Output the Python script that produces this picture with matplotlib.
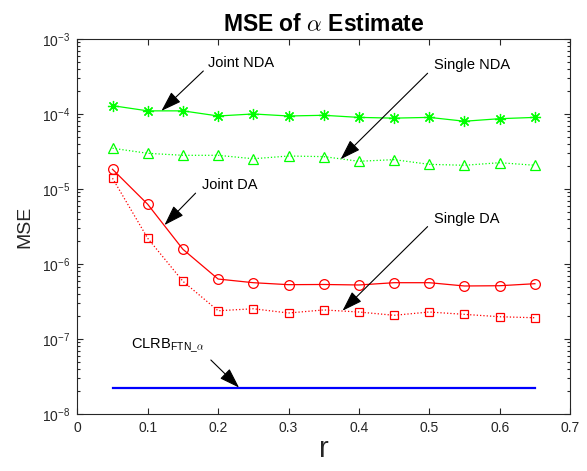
import matplotlib
matplotlib.use("Agg")
import matplotlib.pyplot as plt
import numpy as np

plt.rcParams['font.family'] = ['Liberation Sans', 'DejaVu Sans']
plt.rcParams['mathtext.fontset'] = 'cm'

# roll-off factor r
r = [0.05, 0.10, 0.15, 0.20, 0.25, 0.30, 0.35, 0.40, 0.45, 0.50, 0.55, 0.60, 0.65]

joint_nda = [1.29e-4, 1.10e-4, 1.10e-4, 9.4e-5, 1.0e-4, 9.4e-5, 9.6e-5,
             9.0e-5, 8.8e-5, 9.0e-5, 8.0e-5, 8.65e-5, 9.0e-5]
single_nda = [3.49e-5, 2.99e-5, 2.81e-5, 2.81e-5, 2.53e-5, 2.75e-5, 2.70e-5,
              2.34e-5, 2.46e-5, 2.13e-5, 2.07e-5, 2.24e-5, 2.07e-5]
joint_da = [1.83e-5, 6.25e-6, 1.57e-6, 6.3e-7, 5.63e-7, 5.3e-7, 5.33e-7,
            5.25e-7, 5.63e-7, 5.63e-7, 5.09e-7, 5.13e-7, 5.46e-7]
single_da = [1.39e-5, 2.20e-6, 5.88e-7, 2.38e-7, 2.53e-7, 2.22e-7, 2.44e-7,
             2.29e-7, 2.07e-7, 2.29e-7, 2.13e-7, 1.98e-7, 1.92e-7]
clrb_r = [0.05, 0.65]
clrb = [2.25e-8, 2.25e-8]

x_ticks = [0, 0.1, 0.2, 0.3, 0.4, 0.5, 0.6, 0.7]
x_tick_labels = ['0', '0.1', '0.2', '0.3', '0.4', '0.5', '0.6', '0.7']

axcol = '#262626'

fig = plt.figure(figsize=(5.87, 4.71), dpi=100)
ax = fig.add_axes([0.1317, 0.121, 0.8395, 0.7963])

green = '#00ff00'
red = '#ff0000'
blue = '#0000ff'

ax.plot(r, joint_nda, '-', color=green, lw=0.9, marker=(8, 2, 0),
        ms=8, mew=0.9, mfc='none', mec=green)
ax.plot(r, single_nda, ':', color=green, lw=0.9, marker='^',
        ms=7, mew=0.9, mfc='none', mec=green)
ax.plot(r, joint_da, '-', color=red, lw=0.9, marker='o',
        ms=7, mew=0.9, mfc='none', mec=red)
ax.plot(r, single_da, ':', color=red, lw=0.9, marker='s',
        ms=5.5, mew=0.9, mfc='none', mec=red)
ax.plot(clrb_r, clrb, '-', color=blue, lw=1.6)

ax.set_yscale('log')
ax.set_xlim(0, 0.7)
ax.set_ylim(1e-8, 1e-3)
ax.set_xticks(x_ticks)
ax.set_xticklabels(x_tick_labels)
ax.xaxis.set_minor_locator(matplotlib.ticker.NullLocator())
ax.yaxis.set_major_locator(matplotlib.ticker.LogLocator(base=10, numticks=10))
ax.yaxis.set_minor_locator(matplotlib.ticker.LogLocator(base=10, subs=np.arange(2, 10), numticks=20))
ax.yaxis.set_minor_formatter(matplotlib.ticker.NullFormatter())

ax.tick_params(which='both', direction='in', top=True, right=True,
               color=axcol, labelcolor=axcol, labelsize=10, width=0.8)
ax.tick_params(which='major', length=4.5, pad=5)
ax.tick_params(which='minor', length=2.5)
for s in ax.spines.values():
    s.set_color(axcol)
    s.set_linewidth(0.8)

ax.set_title(r'MSE of $\alpha$ Estimate', fontsize=16.5, fontweight='bold',
             color='black', pad=6)
ax.set_ylabel('MSE', fontsize=14, color=axcol, labelpad=6)
ax.set_xlabel('r', fontsize=21, color=axcol, labelpad=0)

arrow = dict(arrowstyle='-|>,head_length=0.9,head_width=0.3', color='black',
             lw=0.8, mutation_scale=14, shrinkA=0, shrinkB=0)
tk = dict(fontsize=10.5, color='black', va='center', ha='left')

ax.annotate('', xy=(0.1195, 1.10e-4), xytext=(0.179, 3.74e-4), arrowprops=arrow)
ax.text(0.186, 4.8e-4, 'Joint NDA', **tk)

ax.annotate('', xy=(0.374, 2.49e-5), xytext=(0.4976, 3.49e-4), arrowprops=arrow)
ax.text(0.507, 4.5e-4, 'Single NDA', **tk)

ax.annotate('', xy=(0.1238, 3.3e-6), xytext=(0.168, 8.8e-6), arrowprops=arrow)
ax.text(0.177, 1.13e-5, 'Joint DA', **tk)

ax.annotate('', xy=(0.3767, 2.38e-7), xytext=(0.4976, 3.15e-6), arrowprops=arrow)
ax.text(0.507, 3.95e-6, 'Single DA', **tk)

ax.annotate('', xy=(0.2298, 2.25e-8), xytext=(0.1897, 5.25e-8), arrowprops=arrow)
ax.text(0.0756, 8.0e-8, r'CLRB$_{\mathdefault{FTN\_}\alpha}$', **tk)

fig.savefig('out.png', dpi=100)
